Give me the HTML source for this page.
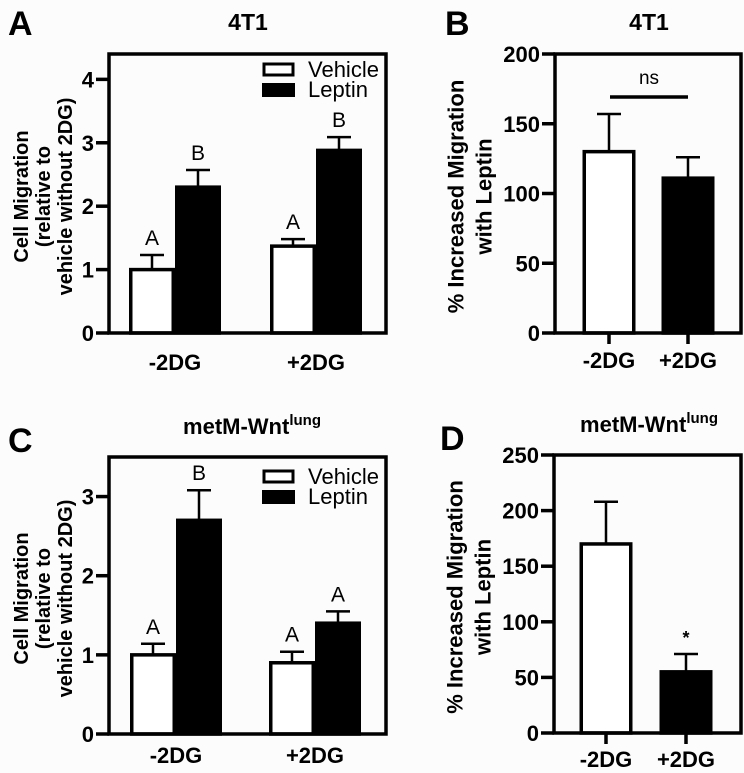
<!DOCTYPE html>
<html><head><meta charset="utf-8"><style>
body{margin:0;background:#fcfcfc;}
svg{display:block;font-family:"Liberation Sans",Arial,sans-serif;}
</style></head><body>
<svg id="fig" width="744" height="773" viewBox="0 0 744 773" xmlns="http://www.w3.org/2000/svg">
<rect width="744" height="773" fill="#fcfcfc"/>
<text x="8" y="35" font-size="34" font-weight="bold">A</text>
<text x="445" y="35" font-size="34" font-weight="bold">B</text>
<text x="8" y="452" font-size="34" font-weight="bold">C</text>
<text x="440" y="450" font-size="34" font-weight="bold">D</text>
<text x="248" y="30" font-size="23" font-weight="bold" text-anchor="middle">4T1</text>
<text x="649" y="30" font-size="23" font-weight="bold" text-anchor="middle">4T1</text>
<text x="252" y="434" font-size="22" font-weight="bold" text-anchor="middle">metM-Wnt<tspan font-size="15" dy="-9">lung</tspan></text>
<text x="649" y="432" font-size="22" font-weight="bold" text-anchor="middle">metM-Wnt<tspan font-size="15" dy="-9">lung</tspan></text>
<g id="g"></g>
</svg>
<script>
// Panel A data
const aCats = ["-2DG", "+2DG"];
const aVehicle = [1.0, 1.37];
const aVehicleErr = [0.23, 0.11];
const aLeptin = [2.3, 2.88];
const aLeptinErr = [0.27, 0.21];
const aLetters = [["A","B"],["A","B"]];
const aTicks = [0,1,2,3,4];
// Panel C data
const cCats = ["-2DG", "+2DG"];
const cVehicle = [1.0, 0.9];
const cVehicleErr = [0.14, 0.14];
const cLeptin = [2.7, 1.4];
const cLeptinErr = [0.38, 0.15];
const cLetters = [["A","B"],["A","A"]];
const cTicks = [0,1,2,3];
// Panel B data
const bCats = ["-2DG", "+2DG"];
const bValues = [130, 111];
const bErr = [27, 15];
const bTicks = [0,50,100,150,200];
// Panel D data
const dCats = ["-2DG", "+2DG"];
const dValues = [170, 55];
const dErr = [38, 16];
const dTicks = [0,50,100,150,200,250];

const NS="http://www.w3.org/2000/svg";
const G=document.getElementById('g');
function el(tag,attrs,parent){const e=document.createElementNS(NS,tag);for(const k in attrs)e.setAttribute(k,attrs[k]);(parent||G).appendChild(e);return e;}
function txt(s,attrs,parent){const e=el('text',attrs,parent);e.textContent=s;return e;}

function frame(name,L,R,T,B,ticks,ymax){
  const g=el('g',{});
  
  
  const y=v=>B-(v/ymax)*(B-T);
  ticks.forEach(t=>{
    const l=el('line',{x1:L-13,x2:L,y1:y(t),y2:y(t),stroke:'#000','stroke-width':3.5},g);
    
    
    const tl=txt(String(t),{x:L-15,y:y(t)+8,'font-size':22,'font-weight':'bold','text-anchor':'end'},g);
    
    
  });
  return {g,y};
}
function bar(g,x0,x1,yTop,yBase,fill,yErr){
  const eb=el('line',{x1:(x0+x1)/2,x2:(x0+x1)/2,y1:yErr,y2:yTop,stroke:'#000','stroke-width':2.5},g);
  
  
  const cap=el('line',{x1:(x0+x1)/2-12,x2:(x0+x1)/2+12,y1:yErr,y2:yErr,stroke:'#000','stroke-width':2.5},g);
  
  
  const r=el('rect',{x:x0+1.75,y:yTop,width:x1-x0-3.5,height:yBase-yTop,fill:fill,stroke:'#000','stroke-width':3.5},g);
  
  
}
function box(g,L,R,T,B){
  const r=el('rect',{x:L,y:T,width:R-L,height:B-T,fill:'none',stroke:'#000','stroke-width':3.5},g);
  
  
}
function ytitle(g,lines,cx,cy,name,fs,sp){
  const t=el('text',{transform:`translate(${cx},${cy}) rotate(-90)`,'font-size':fs,'font-weight':'bold','text-anchor':'middle'},g);
  
  
  const n=lines.length;
  lines.forEach((s,i)=>{const ts=el('tspan',{x:0,y:(i-(n-1)/2)*sp+fs*0.35},t);ts.textContent=s;});
}

function grouped(name,L,R,T,B,ymax,ticks,cats,veh,vehE,lep,lepE,letters,groupX,legendY,catY){
  const {g,y}=frame(name,L,R,T,B,ticks,ymax);
  const bw=46;
  cats.forEach((c,i)=>{
    const gx=groupX[i];
    bar(g,gx-bw,gx,y(veh[i]),B,'#fff',y(veh[i]+vehE[i]));
    bar(g,gx,gx+bw,y(lep[i]),B,'#000',y(lep[i]+lepE[i]));
    const l1=txt(letters[i][0],{x:gx-bw/2,y:y(veh[i]+vehE[i])-10,'font-size':21,'text-anchor':'middle'},g);
    
    
    const l2=txt(letters[i][1],{x:gx+bw/2,y:y(lep[i]+lepE[i])-10,'font-size':21,'text-anchor':'middle'},g);
    
    
    const cl=txt(c,{x:gx,y:catY,'font-size':22,'font-weight':'bold','text-anchor':'middle'},g);
    
    
  });
  box(g,L,R,T,B);
  const lg=el('g',{},g);
  
  
  el('rect',{x:264,y:legendY,width:29,height:11,fill:'#fff',stroke:'#000','stroke-width':3},lg);
  el('rect',{x:262,y:legendY+19,width:33,height:14,fill:'#000'},lg);
  txt('Vehicle',{x:308,y:legendY+13,'font-size':22},lg);
  txt('Leptin',{x:308,y:legendY+33,'font-size':22},lg);
  ytitle(g,['Cell Migration','(relative to','vehicle without 2DG)'],43,(T+B)/2+3,'y-axis-title',20,22);
}

grouped('chart-a',109,386,54,333,4.4,aTicks,aCats,aVehicle,aVehicleErr,aLeptin,aLeptinErr,aLetters,[175,316],64,370);
grouped('chart-c',109,386,457,734,3.5,cTicks,cCats,cVehicle,cVehicleErr,cLeptin,cLeptinErr,cLetters,[176,315],471,763);

function single(name,L,R,T,B,ymax,ticks,cats,vals,errs,centers,catY){
  const {g,y}=frame(name,L,R,T,B,ticks,ymax);
  const bw=53;
  cats.forEach((c,i)=>{
    bar(g,centers[i]-bw/2,centers[i]+bw/2,y(vals[i]),B,i===0?'#fff':'#000',y(vals[i]+errs[i]));
    const tk=el('line',{x1:centers[i],x2:centers[i],y1:B,y2:B+11,stroke:'#000','stroke-width':3.5},g);
    
    
    const cl=txt(c,{x:centers[i],y:catY,'font-size':22,'font-weight':'bold','text-anchor':'middle'},g);
    
    
  });
  box(g,L,R,T,B);
  ytitle(g,['% Increased Migration','with Leptin'],L-85,(T+B)/2+3,'y-axis-title',22,28);
  return {g,y};
}
const pb=single('chart-b',555,741,54,333,200,bTicks,bCats,bValues,bErr,[609,688],368);
const ns=el('line',{x1:610,x2:688,y1:97,y2:97,stroke:'#000','stroke-width':3.5},pb.g);


const nst=txt('ns',{x:649,y:84,'font-size':19,'text-anchor':'middle'},pb.g);



const pd=single('chart-d',554,741,455,733,250,dTicks,dCats,dValues,dErr,[606,686],767);
const star=txt('*',{x:686,y:pd.y(dValues[1]+dErr[1])-10,'font-size':18,'font-weight':'bold','text-anchor':'middle'},pd.g);


</script>
</body></html>
